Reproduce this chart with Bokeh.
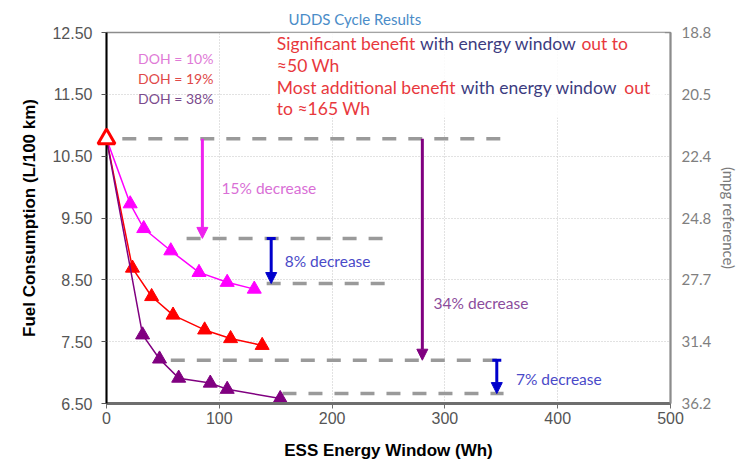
from bokeh.plotting import figure
from bokeh.models import (LinearAxis, Range1d, FixedTicker, Label, Arrow,
                          NormalHead, TeeHead, BoxAnnotation, Title)
from bokeh.embed import file_html
from bokeh.resources import INLINE

# ---------------- data ----------------
baseline_window = [0]
baseline_fc = [10.78]

doh10_window = [21, 33, 57, 82, 107, 131]
doh10_fc = [9.73, 9.33, 8.97, 8.62, 8.46, 8.35]

doh19_window = [23, 40, 59, 87, 110, 138]
doh19_fc = [8.69, 8.23, 7.93, 7.69, 7.55, 7.44]

doh38_window = [32, 47, 64, 92, 107, 154]
doh38_fc = [7.61, 7.22, 6.91, 6.83, 6.73, 6.58]

x_ticks = [0, 100, 200, 300, 400, 500]
fc_ticks = [6.5, 7.5, 8.5, 9.5, 10.5, 11.5, 12.5]
fc_tick_labels = ["6.50", "7.50", "8.50", "9.50", "10.50", "11.50", "12.50"]
mpg_tick_labels = ["36.2", "31.4", "27.7", "24.8", "22.4", "20.5", "18.8"]

# reference levels (dashed) : level, start, end
ref_levels = [10.78, 9.17, 8.44, 7.20, 6.66]
ref_start = [14, 71, 142, 57, 156]
ref_end = [355, 248, 248, 352, 352]

# decrease arrows: x, from, to
arrow_x = [85, 146, 280, 346]
arrow_from = [10.78, 9.17, 10.78, 7.20]
arrow_to = [9.17, 8.44, 7.20, 6.66]
arrow_labels = ["15% decrease", "8% decrease", "34% decrease", "7% decrease"]

# ---------------- figure ----------------
p = figure(width=741, height=465, x_range=Range1d(0, 500), y_range=Range1d(6.5, 12.5),
           output_backend="svg", toolbar_location=None,
           min_border_left=106, min_border_right=68, min_border_top=32, min_border_bottom=62)
p.outline_line_color = "#8c8c8c"
p.outline_line_width = 1.5
p.background_fill_color = "white"
p.border_fill_color = "white"

# chart title
p.title = Title(text="UDDS Cycle Results", align="left", offset=182,
                text_font="Lato", text_font_size="15px", text_color="#4a8cc8",
                text_font_style="normal", standoff=9)

# grids
p.xgrid.ticker = FixedTicker(ticks=x_ticks)
p.ygrid.ticker = FixedTicker(ticks=fc_ticks)
for g in (p.xgrid, p.ygrid):
    g.grid_line_color = "#c4c4c4"
    g.grid_line_dash = "1 2"
    g.grid_line_width = 1

# x axis
xa = p.xaxis[0]
xa.ticker = FixedTicker(ticks=x_ticks)
xa.axis_label = "ESS Energy Window (Wh)"
xa.axis_label_text_font = "Liberation Sans"
xa.axis_label_text_font_style = "bold"
xa.axis_label_text_font_size = "17px"
xa.axis_label_text_color = "black"
xa.axis_label_standoff = 14
xa.major_label_text_font = "Liberation Sans"
xa.major_label_text_font_size = "16px"
xa.major_label_text_color = "#555555"
xa.major_label_standoff = 3
xa.axis_line_color = "#6e6e6e"
xa.axis_line_width = 3
xa.major_tick_out = 5
xa.major_tick_in = 0
xa.major_tick_line_color = "#6e6e6e"
xa.minor_tick_line_color = None

# left y axis
ya = p.yaxis[0]
ya.ticker = FixedTicker(ticks=fc_ticks)
ya.major_label_overrides = dict(zip(fc_ticks, fc_tick_labels))
ya.axis_label = "Fuel Consumption (L/100 km)"
ya.axis_label_text_font = "Liberation Sans"
ya.axis_label_text_font_style = "bold"
ya.axis_label_text_font_size = "17px"
ya.axis_label_text_color = "black"
ya.axis_label_standoff = 10
ya.major_label_text_font = "Liberation Sans"
ya.major_label_text_font_size = "16px"
ya.major_label_text_color = "#555555"
ya.major_label_standoff = 9
ya.axis_line_color = "black"
ya.axis_line_width = 2
ya.major_tick_out = 5
ya.major_tick_in = 0
ya.major_tick_line_color = "#555555"
ya.minor_tick_line_color = None

# right mpg axis
ra = LinearAxis(ticker=FixedTicker(ticks=fc_ticks),
                major_label_overrides=dict(zip(fc_ticks, mpg_tick_labels)))
ra.axis_label = "(mpg reference)"
ra.axis_label_text_font = "Lato"
ra.axis_label_text_font_style = "normal"
ra.axis_label_text_font_size = "15px"
ra.axis_label_text_color = "#7a7a7a"
ra.axis_label_standoff = 6
ra.major_label_text_font = "Lato"
ra.major_label_text_font_size = "15px"
ra.major_label_text_color = "#7f7f7f"
ra.major_label_standoff = 11
ra.axis_line_color = "#8c8c8c"
ra.axis_line_width = 2
ra.major_tick_out = 0
ra.major_tick_in = 0
ra.minor_tick_line_color = None
p.add_layout(ra, "right")

# semi-transparent note box
p.add_layout(BoxAnnotation(left=145, right=495, bottom=11.12, top=12.5,
                           fill_color="white", fill_alpha=0.85, line_color=None))

# dashed reference levels
for lv, s, e in zip(ref_levels, ref_start, ref_end):
    p.line([s, e], [lv, lv], line_color="#9a9a9a", line_width=3.5, line_dash="14 12")

# series
series = [(doh10_window, doh10_fc, "#ff00ff"),
          (doh19_window, doh19_fc, "#ff0000"),
          (doh38_window, doh38_fc, "#800080")]
for xs, ys, c in series:
    p.line(baseline_window + xs, baseline_fc + ys, line_color=c, line_width=1.5)
    p.scatter(xs, ys, marker="triangle", size=14, fill_color=c, line_color=c)

p.scatter(baseline_window, baseline_fc, marker="triangle", size=17,
          fill_color="white", line_color="#ff0000", line_width=3, level="overlay")

# arrows
arrow_colors = ["#ee22ee", "#0000cc", "#800080", "#0000cc"]
arrow_tee = [False, True, False, True]
for x, y0, y1, c, tee in zip(arrow_x, arrow_from, arrow_to, arrow_colors, arrow_tee):
    kw = {}
    if tee:
        kw["start"] = TeeHead(size=9, line_color=c, line_width=3)
    p.add_layout(Arrow(end=NormalHead(size=11, fill_color=c, line_color=c, line_width=1),
                       x_start=x, y_start=y0, x_end=x, y_end=y1,
                       line_color=c, line_width=3, **kw))

# arrow labels
lab_x = [102, 158, 290, 363]
lab_y = [9.98, 8.81, 8.12, 6.90]
lab_colors = ["#d96fd6", "#4a4ac8", "#8b4c9c", "#4a4ac8"]
for t, x, y, c in zip(arrow_labels, lab_x, lab_y, lab_colors):
    p.add_layout(Label(x=x, y=y, text=t, text_font="Lato", text_font_size="15.5px",
                       text_color=c, text_baseline="middle", text_align="left"))

# DOH legend
doh_labels = ["DOH = 10%", "DOH = 19%", "DOH = 38%"]
doh_colors = ["#e07ad6", "#e04848", "#7b4a8c"]
doh_y = [12.08, 11.76, 11.43]
for t, y, c in zip(doh_labels, doh_y, doh_colors):
    p.add_layout(Label(x=28, y=y, text=t, text_font="Lato", text_font_size="14px",
                       text_color=c, text_baseline="middle", text_align="left"))

# note text (multi-coloured)
RED = "#e8383d"
NAVY = "#3c3c80"
note_segments = [
    ("Significant benefit", 151, 12.32, RED),
    ("with energy window", 278, 12.32, NAVY),
    ("out to", 421, 12.32, RED),
    ("\u224850 Wh", 151, 11.97, RED),
    ("Most additional benefit", 151, 11.61, RED),
    ("with energy window", 314, 11.61, NAVY),
    ("out", 459, 11.61, RED),
    ("to \u2248165 Wh", 151, 11.27, RED),
]
for t, x, y, c in note_segments:
    p.add_layout(Label(x=x, y=y, text=t, text_font="Lato", text_font_size="17.5px",
                       text_color=c, text_baseline="middle", text_align="left"))

open("out.html", "w").write(file_html(p, INLINE))
